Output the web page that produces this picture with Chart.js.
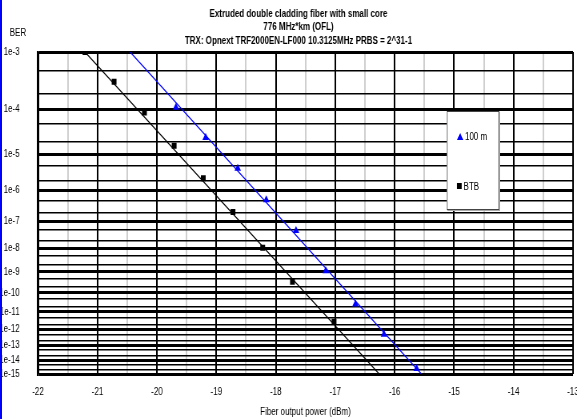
<!DOCTYPE html>
<html>
<head>
<meta charset="utf-8">
<script src="https://cdn.jsdelivr.net/npm/chart.js@4.4.1/dist/chart.umd.min.js"></script>
<style>
  html, body { margin: 0; padding: 0; background: #fff; overflow: hidden; }
  #page { position: relative; width: 577px; height: 419px; overflow: hidden; }
  /* the original figure is horizontally compressed: draw at 721px and squeeze to 577px */
  #wrap { position: absolute; left: 0; top: 0; width: 721px; height: 419px; transform: scaleX(0.80028); transform-origin: 0 0; }
  #c { position: absolute; left: 0; top: 0; }
  #edge { position: absolute; left: 0; top: 0; width: 2px; height: 419px; background: #0000ff; }
  .txt { font-family: 'Liberation Sans', Arial, sans-serif; font-size: 10px; color: #000; }
  #ber { position: absolute; left: 0; width: 45px; top: 27px; text-align: center; line-height: 12px; }
  #legend { position: absolute; left: 558px; top: 111px; width: 64px; height: 97px; border: 1px solid #444; background: #fff; box-shadow: 1px 1px 0 #aaa; }
  .item { position: absolute; left: 12px; height: 12px; line-height: 12px; white-space: nowrap; }
  .mk { display: inline-block; vertical-align: middle; margin-right: 2px; }
  .tri { width: 0; height: 0; border-left: 4.3px solid transparent; border-right: 4.3px solid transparent; border-bottom: 7px solid #0000ff; position: relative; top: -1px; }
  .sq { width: 6.3px; height: 6px; background: #000; position: relative; top: -1px; }
</style>
</head>
<body>
<div id="page">
  <div id="wrap">
    <canvas id="c" width="721" height="419"></canvas>
    <div id="ber" class="txt"></div>
    <div id="legend" class="txt"></div>
  </div>
  <div id="edge"></div>
</div>
<script>
// ---------- data ----------
const titleLines = [
  'Extruded double cladding fiber with small core',
  '776 MHz*km (OFL)',
  'TRX: Opnext TRF2000EN-LF000 10.3125MHz PRBS = 2^31-1'
];
const xAxisTitle = 'Fiber output power (dBm)';
const yAxisTitle = 'BER';

// measured points
const m100Label = '100 m';
const m100Power = [-19.68, -19.18, -18.64, -18.16, -17.66, -17.16, -16.66, -16.18, -15.63];
const m100BER   = [1.1e-4, 2.5e-5, 4.3e-6, 5.2e-7, 4.7e-8, 1.1e-9, 2.6e-11, 5.0e-13, 2.5e-15];

const btbLabel = 'BTB';
const btbPower = [-21.21, -20.72, -20.21, -19.71, -19.22, -18.72, -18.22, -17.72, -17.02];
const btbBER   = [1.0e-3, 3.3e-4, 8.7e-5, 1.6e-5, 2.3e-6, 2.1e-7, 1.05e-8, 3.5e-10, 2.8e-12];

// fitted straight lines (end points)
const m100FitPower = [-20.45, -15.55];
const m100FitBER   = [1e-3, 1e-15];
const btbFitPower  = [-21.21, -16.26];
const btbFitBER    = [1e-3, 1e-15];

// axes
const xMin = -22, xMax = -13, xStep = 0.5;
const yTop = 1e-3, yBottom = 1e-15;
const decadeExponents = [3,4,5,6,7,8,9,10,11,12,13,14,15];
const decadeLabels = ['1e-3','1e-4','1e-5','1e-6','1e-7','1e-8','1e-9','1e-10','1e-11','1e-12','1e-13','1e-14','1e-15'];
const minorMultipliers = [5, 2];

// ---------- BER scale: linear in log(-log(BER)) ----------
const T = v => Math.log10(-Math.log10(v));
class BerScale extends Chart.Scale {
  static id = 'ber';
  static defaults = {};
  parse(raw) { return raw == null ? null : +raw; }
  determineDataLimits() { this.min = this.options.min; this.max = this.options.max; }
  buildTicks() {
    const vals = [];
    decadeExponents.forEach((e, i) => {
      vals.push(Math.pow(10, -e));
      if (i > 0) minorMultipliers.forEach(m => vals.push(m * Math.pow(10, -e)));
    });
    return vals.map(v => ({ value: v }));
  }
  getLabelForValue(v) { return v.toExponential(1); }
  configure() { super.configure(); this._tb = T(this.min); this._tt = T(this.max); }
  getPixelForValue(v) { return this.getPixelForDecimal((T(v) - this._tb) / (this._tt - this._tb)); }
  getValueForPixel(p) {
    const d = this.getDecimalForPixel(p);
    return Math.pow(10, -Math.pow(10, this._tb + d * (this._tt - this._tb)));
  }
}
Chart.register(BerScale);

const isDecade = v => { const e = -Math.log10(v); return Math.abs(e - Math.round(e)) < 1e-9; };
const toXY = (xs, ys) => xs.map((x, i) => ({ x: x, y: ys[i] }));

Chart.defaults.font.family = "'Liberation Sans', Arial, sans-serif";
Chart.defaults.font.size = 10;
Chart.defaults.color = '#000';

// shift the title block so that it is centred like the original figure
const titleShift = {
  id: 'titleShift',
  afterLayout(chart) {
    const t = chart.titleBlock;
    if (t) { t.left += 30; t.width = t.right - t.left; }
  }
};

const chart = new Chart(document.getElementById('c'), {
  type: 'scatter',
  plugins: [titleShift],
  data: {
    datasets: [
      { label: m100Label, data: toXY(m100Power, m100BER), pointStyle: 'triangle', pointRadius: 4.7,
        backgroundColor: '#0000ff', borderColor: '#0000ff', borderWidth: 0, showLine: false, order: 1 },
      { label: btbLabel, data: toXY(btbPower, btbBER), pointStyle: 'rect', pointRadius: 4.25,
        backgroundColor: '#000', borderColor: '#000', borderWidth: 0, showLine: false, order: 1 },
      { label: m100Label + ' fit', data: toXY(m100FitPower, m100FitBER), showLine: true, pointRadius: 0,
        borderColor: '#0000ff', borderWidth: 1.2, order: 2 },
      { label: btbLabel + ' fit', data: toXY(btbFitPower, btbFitBER), showLine: true, pointRadius: 0,
        borderColor: '#000', borderWidth: 1.2, order: 2 }
    ]
  },
  options: {
    responsive: false, animation: false, events: [],
    layout: { padding: { left: 0, right: 5, top: 0, bottom: 0 } },
    plugins: {
      legend: { display: false },
      tooltip: { enabled: false },
      title: { display: true, text: titleLines, color: '#000',
        font: { size: 10, weight: 'bold', lineHeight: 1.35 }, padding: { top: 7, bottom: 4.5 } }
    },
    scales: {
      x: {
        type: 'linear', min: xMin, max: xMax,
        ticks: { stepSize: xStep, autoSkip: false, maxRotation: 0, padding: 12,
          callback: v => Number.isInteger(v) ? String(v) : '' },
        grid: { drawTicks: false, lineWidth: 2,
          color: c => (c.tick && Number.isInteger(c.tick.value)) ? '#000' : '#cfcfcf' },
        border: { display: false },
        title: { display: true, text: xAxisTitle, padding: { top: 0, bottom: 1 } },
        afterFit: s => { s.height = 45; s.paddingLeft = 0; s.paddingRight = 0; }
      },
      y: {
        type: 'ber', min: yBottom, max: yTop,
        ticks: { autoSkip: false, padding: 23,
          callback: v => { if (!isDecade(v)) return ''; const i = decadeExponents.indexOf(Math.round(-Math.log10(v))); return decadeLabels[i]; } },
        grid: { drawTicks: false,
          color: '#000',
          lineWidth: c => (c.tick && isDecade(c.tick.value)) ? 3 : 1.5 },
        border: { display: true, color: '#000', width: 2.5 },
        afterFit: s => { s.width = 47.5; s.paddingTop = 0; s.paddingBottom = 0; }
      }
    }
  }
});

document.getElementById('ber').textContent = yAxisTitle;

// legend (HTML) built from the point datasets
const legendEl = document.getElementById('legend');
[[m100Label, 'tri', 19], [btbLabel, 'sq', 69]].forEach(([lab, cls, top]) => {
  const d = document.createElement('div');
  d.className = 'item';
  d.style.top = top + 'px';
  d.innerHTML = '<span class="mk ' + cls + '"></span>' + lab;
  legendEl.appendChild(d);
});
</script>
</body>
</html>
